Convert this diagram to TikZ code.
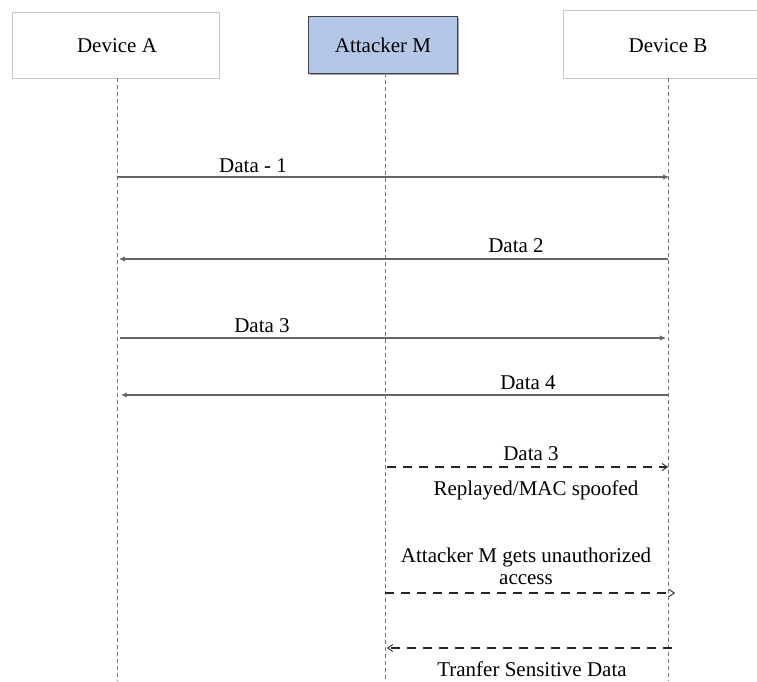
\documentclass[tikz,border=0pt]{standalone}
\usepackage{fontspec}
\setmainfont{Liberation Serif}
\usetikzlibrary{arrows.meta,shadows}
\begin{document}
\begin{tikzpicture}[x=1pt,y=-1pt,
  txt/.style={font=\fontsize{21}{24}\selectfont, inner sep=0pt, anchor=base},
  devbox/.style={draw=black!22, fill=white, line width=0.8pt},
  atkbox/.style={draw=black!75, line width=1pt,
    drop shadow={shadow xshift=1.5pt, shadow yshift=-1.5pt, fill=black!45, opacity=0.8}},
  lifeline/.style={draw=black!55, dash pattern=on 4pt off 3pt, line width=0.8pt},
  msg/.style={draw=black!60, line width=1.2pt, -{To[length=5pt,width=5pt]}},
  dmsg/.style={draw=black!85, line width=1.3pt, dash pattern=on 9pt off 7pt,
    -{Straight Barb[length=5pt,width=7pt,line width=0.9pt]}}]
\useasboundingbox (0,0) rectangle (757,681);
\fill[white] (0,0) rectangle (757,681);

% participants
\path[devbox] (12,12) rectangle (219,78);
\node[txt] (devA) at (117,52) {Device A};
\path[atkbox, fill={rgb,255:red,180;green,199;blue,231}] (308,16) rectangle (457,73);
\node[txt] (atk) at (383,52) {Attacker M};
\path[devbox] (563,10) rectangle (760,78);
\node[txt] (devB) at (668,52) {Device B};

% lifelines
\coordinate (a0) at (117,78);  \coordinate (a1) at (117,681);
\coordinate (m0) at (385,73);  \coordinate (m1) at (385,681);
\coordinate (b0) at (668,78);  \coordinate (b1) at (668,681);
\draw[lifeline] (a0) -- (a1);
\draw[lifeline] (m0) -- (m1);
\draw[lifeline] (b0) -- (b1);

% endpoints of the messages
\coordinate (s1) at (117,177); \coordinate (e1) at (668,177);
\coordinate (s2) at (668,259); \coordinate (e2) at (120,259);
\coordinate (s3) at (120,338); \coordinate (e3) at (665,338);
\coordinate (s4) at (668,395); \coordinate (e4) at (122,395);
\coordinate (s5) at (387,467); \coordinate (e5) at (668,467);
\coordinate (s6) at (385,593); \coordinate (e6) at (675,593);
\coordinate (s7) at (672,648); \coordinate (e7) at (387,648);

% normal exchange
\draw[msg] (s1) -- (e1);
\node[txt] (l1) at (253,172) {Data - 1};
\draw[msg] (s2) -- (e2);
\node[txt] (l2) at (516,252) {Data 2};
\draw[msg] (s3) -- (e3);
\node[txt] (l3) at (262,332) {Data 3};
\draw[msg] (s4) -- (e4);
\node[txt] (l4) at (528,389) {Data 4};

% replay attack
\draw[dmsg] (s5) -- (e5);
\node[txt] (l5) at (531,460) {Data 3};
\node[txt] (l5b) at (536,495) {Replayed/MAC spoofed};
\node[txt] (l6) at (526,562) {Attacker M gets unauthorized};
\node[txt] (l6b) at (526,584) {access};
\draw[dmsg] (s6) -- (e6);
\draw[dmsg] (s7) -- (e7);
\node[txt] (l7) at (532,676) {Tranfer Sensitive Data};
\end{tikzpicture}
\end{document}
